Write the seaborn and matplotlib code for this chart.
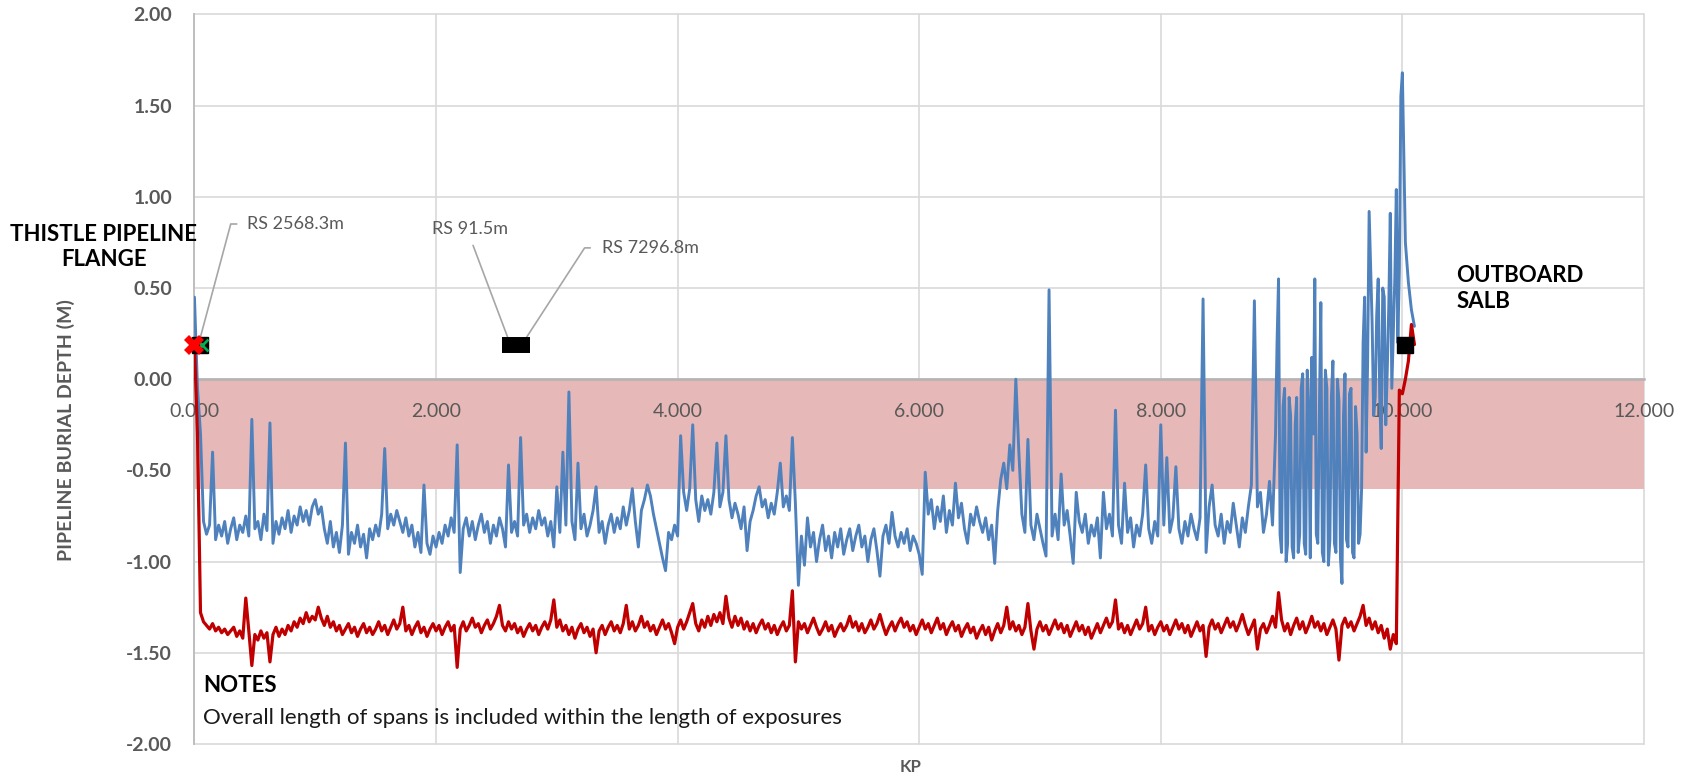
import numpy as np
import pandas as pd
import matplotlib
matplotlib.use('Agg')
import matplotlib.pyplot as plt
import seaborn as sns

# survey points every 25 m along the route (KP in km)
kp = np.round(np.arange(0, 10.1001, 0.025), 3)

# blue profile (m)
blue_depth = [
    0.45, -0.05, -0.30, -0.78, -0.85, -0.80, -0.40, -0.88, -0.80, -0.86, -0.78, -0.90, -0.82, -0.76, -0.88, -0.80, -0.84, -0.75, -0.86, -0.22,
    -0.82, -0.78, -0.88, -0.74, -0.83, -0.24, -0.90, -0.78, -0.85, -0.76, -0.82, -0.72, -0.84, -0.75, -0.80, -0.70, -0.78, -0.72, -0.80, -0.70,
    -0.66, -0.74, -0.70, -0.82, -0.90, -0.78, -0.92, -0.84, -0.95, -0.80, -0.35, -0.96, -0.84, -0.90, -0.80, -0.92, -0.85, -0.98, -0.82, -0.88,
    -0.80, -0.86, -0.74, -0.38, -0.82, -0.74, -0.80, -0.72, -0.78, -0.84, -0.76, -0.86, -0.80, -0.92, -0.84, -0.95, -0.58, -0.90, -0.96, -0.86,
    -0.92, -0.84, -0.90, -0.80, -0.86, -0.76, -0.84, -0.36, -1.06, -0.82, -0.76, -0.86, -0.78, -0.88, -0.80, -0.74, -0.84, -0.78, -0.90, -0.80,
    -0.86, -0.76, -0.82, -0.92, -0.47, -0.84, -0.78, -0.86, -0.32, -0.80, -0.74, -0.84, -0.76, -0.82, -0.72, -0.80, -0.76, -0.86, -0.78, -0.92,
    -0.59, -0.84, -0.40, -0.80, -0.07, -0.78, -0.88, -0.46, -0.82, -0.74, -0.86, -0.80, -0.72, -0.59, -0.84, -0.78, -0.90, -0.80, -0.74, -0.84,
    -0.76, -0.82, -0.70, -0.80, -0.72, -0.60, -0.78, -0.92, -0.72, -0.66, -0.58, -0.64, -0.74, -0.82, -0.90, -0.98, -1.05, -0.84, -0.88, -0.80,
    -0.86, -0.31, -0.62, -0.72, -0.60, -0.25, -0.66, -0.78, -0.64, -0.72, -0.66, -0.74, -0.62, -0.35, -0.70, -0.62, -0.31, -0.66, -0.76, -0.68,
    -0.74, -0.82, -0.70, -0.94, -0.78, -0.72, -0.64, -0.59, -0.70, -0.66, -0.76, -0.68, -0.74, -0.62, -0.46, -0.70, -0.64, -0.72, -0.32, -0.68,
    -1.13, -0.86, -1.02, -0.76, -0.92, -0.84, -1.00, -0.88, -0.80, -0.94, -0.86, -0.98, -0.84, -0.92, -0.82, -0.96, -0.88, -0.82, -0.94, -0.86,
    -0.80, -0.92, -0.86, -1.00, -0.88, -0.82, -0.94, -1.08, -0.86, -0.80, -0.90, -0.73, -0.86, -0.92, -0.84, -0.90, -0.82, -0.94, -0.86, -0.90,
    -0.96, -1.07, -0.51, -0.74, -0.66, -0.82, -0.70, -0.78, -0.64, -0.84, -0.72, -0.80, -0.57, -0.76, -0.68, -0.82, -0.90, -0.74, -0.80, -0.70,
    -0.78, -0.84, -0.76, -0.88, -0.80, -1.01, -0.72, -0.55, -0.46, -0.60, -0.36, -0.50, 0.00, -0.40, -0.74, -0.84, -0.33, -0.80, -0.88, -0.74,
    -0.82, -0.90, -0.97, 0.49, -0.86, -0.74, -0.88, -0.52, -0.80, -0.72, -0.86, -1.01, -0.62, -0.78, -0.84, -0.74, -0.90, -0.80, -0.86, -0.76,
    -0.98, -0.62, -0.82, -0.74, -0.86, -0.17, -0.80, -0.90, -0.57, -0.84, -0.76, -0.92, -0.80, -0.86, -0.74, -0.47, -0.82, -0.90, -0.78, -0.86,
    -0.25, -0.80, -0.43, -0.84, -0.76, -0.48, -0.82, -0.90, -0.78, -0.86, -0.74, -0.82, -0.88, -0.76, 0.44, -0.95, -0.70, -0.58, -0.80, -0.86,
    -0.74, -0.90, -0.78, -0.84, -0.68, -0.80, -0.92, -0.76, -0.84, -0.70, -0.58, 0.43, -0.70, -0.62, -0.84, -0.74, -0.56, -0.80, -0.30, 0.55,
    -0.95, -0.05, -0.90, -0.20, -0.98, -0.10, -0.85, 0.03, -0.96, -0.15, 0.12, 0.55, -0.90, 0.42, -1.00, -0.05, -0.88, 0.10, -0.95, -0.12,
    -1.12, 0.03, -0.92, -0.05, -0.98, -0.30, -0.85, 0.20, -0.40, 0.92, 0.30, -0.10, 0.55, -0.38, 0.45, 0.05, 0.91, 0.25, 1.04, 0.60,
    1.68, 0.75, 0.53, 0.38, 0.29,
]

# extra blue readings in the busy stretch near the outboard end (half steps)
extra_kp = np.round(np.arange(8.9625, 9.9876, 0.025), 4)
extra_depth = [
    0.20, -0.85, -0.15, -1.00, -0.10, -0.92, -0.25, -0.95, -0.05, -0.90,
    0.05, -0.98, -0.30, -0.85, -0.20, -0.95, 0.05, -1.02, -0.10, -0.90,
    0.00, -0.98, -0.20, -0.88, -0.08, -0.95, -0.15, -0.90, -0.60, 0.45,
    0.10, 0.60, -0.20, 0.35, -0.10, 0.50, -0.25, 0.40, -0.05, 0.55,
    0.20, 1.55,
]

# red profile (m)
red_depth = [
    0.19, -0.30, -1.28, -1.33, -1.35, -1.37, -1.34, -1.38, -1.36, -1.39, -1.37, -1.40, -1.38, -1.36, -1.41, -1.38, -1.42, -1.20, -1.38, -1.57,
    -1.40, -1.43, -1.38, -1.42, -1.39, -1.55, -1.40, -1.36, -1.41, -1.37, -1.40, -1.35, -1.38, -1.33, -1.36, -1.31, -1.34, -1.28, -1.33, -1.30,
    -1.32, -1.25, -1.31, -1.35, -1.30, -1.36, -1.33, -1.38, -1.35, -1.40, -1.37, -1.34, -1.39, -1.36, -1.41, -1.37, -1.34, -1.39, -1.36, -1.40,
    -1.37, -1.33, -1.38, -1.35, -1.40, -1.36, -1.32, -1.37, -1.34, -1.25, -1.38, -1.35, -1.40, -1.36, -1.33, -1.39, -1.36, -1.41, -1.37, -1.34,
    -1.38, -1.35, -1.40, -1.36, -1.33, -1.38, -1.35, -1.58, -1.37, -1.33, -1.38, -1.35, -1.31, -1.36, -1.34, -1.39, -1.35, -1.32, -1.37, -1.34,
    -1.30, -1.24, -1.35, -1.38, -1.33, -1.37, -1.34, -1.39, -1.36, -1.41, -1.37, -1.34, -1.38, -1.35, -1.40, -1.36, -1.33, -1.37, -1.32, -1.21,
    -1.36, -1.32, -1.38, -1.35, -1.40, -1.36, -1.42, -1.37, -1.34, -1.39, -1.36, -1.41, -1.37, -1.50, -1.38, -1.35, -1.40, -1.36, -1.33, -1.38,
    -1.35, -1.39, -1.34, -1.24, -1.37, -1.33, -1.38, -1.35, -1.30, -1.36, -1.33, -1.38, -1.35, -1.40, -1.36, -1.32, -1.37, -1.34, -1.39, -1.45,
    -1.36, -1.32, -1.37, -1.33, -1.28, -1.23, -1.34, -1.38, -1.32, -1.36, -1.30, -1.35, -1.29, -1.33, -1.28, -1.34, -1.19, -1.31, -1.36, -1.30,
    -1.35, -1.31, -1.37, -1.33, -1.38, -1.34, -1.39, -1.35, -1.32, -1.37, -1.34, -1.39, -1.35, -1.40, -1.36, -1.33, -1.38, -1.35, -1.16, -1.55,
    -1.33, -1.37, -1.34, -1.39, -1.35, -1.31, -1.36, -1.40, -1.37, -1.33, -1.38, -1.35, -1.41, -1.37, -1.34, -1.38, -1.35, -1.30, -1.36, -1.33,
    -1.38, -1.34, -1.39, -1.36, -1.32, -1.37, -1.34, -1.29, -1.35, -1.40, -1.36, -1.33, -1.38, -1.34, -1.31, -1.36, -1.33, -1.38, -1.35, -1.40,
    -1.36, -1.32, -1.37, -1.34, -1.39, -1.35, -1.31, -1.37, -1.34, -1.40, -1.36, -1.33, -1.38, -1.35, -1.41, -1.37, -1.34, -1.39, -1.36, -1.42,
    -1.38, -1.35, -1.40, -1.36, -1.43, -1.38, -1.34, -1.39, -1.35, -1.25, -1.37, -1.33, -1.38, -1.35, -1.40, -1.36, -1.23, -1.38, -1.48, -1.37,
    -1.33, -1.38, -1.35, -1.40, -1.36, -1.32, -1.37, -1.34, -1.39, -1.35, -1.41, -1.37, -1.33, -1.38, -1.35, -1.40, -1.36, -1.42, -1.38, -1.34,
    -1.39, -1.35, -1.31, -1.36, -1.33, -1.21, -1.37, -1.34, -1.39, -1.35, -1.40, -1.36, -1.32, -1.37, -1.34, -1.25, -1.38, -1.35, -1.40, -1.36,
    -1.33, -1.38, -1.35, -1.40, -1.36, -1.32, -1.37, -1.34, -1.39, -1.35, -1.41, -1.37, -1.33, -1.38, -1.35, -1.52, -1.36, -1.32, -1.37, -1.34,
    -1.39, -1.35, -1.31, -1.36, -1.33, -1.38, -1.34, -1.29, -1.35, -1.40, -1.36, -1.32, -1.48, -1.37, -1.34, -1.39, -1.35, -1.30, -1.36, -1.17,
    -1.32, -1.38, -1.34, -1.40, -1.35, -1.31, -1.37, -1.33, -1.39, -1.35, -1.30, -1.36, -1.33, -1.38, -1.34, -1.40, -1.36, -1.32, -1.37, -1.54,
    -1.35, -1.31, -1.36, -1.33, -1.38, -1.34, -1.30, -1.24, -1.35, -1.31, -1.37, -1.33, -1.39, -1.35, -1.42, -1.37, -1.48, -1.40, -1.45, -0.06,
    -0.08, 0.00, 0.10, 0.30, 0.19,
]

# markers along the top
flange_kp = 0.0
marker_depth = 0.19
square_kp = [0.05, 10.02]
span_block = [2.55, 2.78]

# remaining span callouts
rs_labels = ['RS 2568.3m', 'RS 91.5m', 'RS 7296.8m']
rs_kp = [0.045, 2.61, 2.72]
rs_depth = [0.22, 0.20, 0.20]

x_ticks = [0, 2, 4, 6, 8, 10, 12]
y_ticks = [-2.0, -1.5, -1.0, -0.5, 0.0, 0.5, 1.0, 1.5, 2.0]

assert len(kp) == len(blue_depth) == len(red_depth)
assert len(extra_kp) == len(extra_depth)
df_red = pd.DataFrame({'KP': kp, 'depth': red_depth})
df_blue = pd.concat([pd.DataFrame({'KP': kp, 'depth': blue_depth}),
                     pd.DataFrame({'KP': extra_kp, 'depth': extra_depth})])
df_blue = df_blue.sort_values('KP').reset_index(drop=True)

sns.set_theme(style='white')
plt.rcParams['font.family'] = ['Lato', 'DejaVu Sans']

grey = '#595959'
fig = plt.figure(figsize=(16.88, 7.72), dpi=100)
ax = fig.add_axes([0.1152, 0.0363, 0.8587, 0.945])

# gridlines drawn by hand so the band hides them but not the tick labels
for y in y_ticks:
    ax.axhline(y, color='#d9d9d9', lw=1.2, zorder=0.5, clip_on=False)
for x in x_ticks:
    ax.axvline(x, color='#d9d9d9', lw=1.2, zorder=0.5, clip_on=False)

# band between 0 and -0.6 m
ax.axhspan(-0.6, 0, color='#e6b8b7', zorder=1, lw=0)

sns.lineplot(data=df_blue, x='KP', y='depth', ax=ax, color='#4f81bd', lw=2.1,
             estimator=None, sort=False, zorder=3)
sns.lineplot(data=df_red, x='KP', y='depth', ax=ax, color='#c00000', lw=2.3,
             estimator=None, sort=False, zorder=4)

# span / exposure markers
ax.plot(span_block, [marker_depth, marker_depth], color='black', lw=11.5,
        solid_capstyle='butt', zorder=5)
ax.plot(square_kp, [marker_depth] * len(square_kp), ls='none', marker='s',
        ms=11.5, color='black', zorder=5, clip_on=False)
ax.plot([square_kp[0] + 0.01], [marker_depth], ls='none', marker='x', ms=8,
        mew=2, color='#00b050', zorder=6, clip_on=False)
ax.plot([flange_kp], [marker_depth], ls='none', marker='X', ms=14, mew=0,
        color='#ff0000', zorder=7, clip_on=False)

lead = dict(arrowstyle='-', color='#a6a6a6', lw=1.2, shrinkB=0)
ax.annotate(rs_labels[0], xy=(rs_kp[0], rs_depth[0]), xytext=(0.435, 0.851),
            ha='left', va='center', fontsize=13, color=grey,
            arrowprops=dict(lead, shrinkA=5, relpos=(0, 0.5),
                            connectionstyle='angle,angleA=0,angleB=75,rad=0'))
ax.annotate(rs_labels[1], xy=(rs_kp[1], rs_depth[1]), xytext=(2.28, 0.824),
            ha='center', va='center', fontsize=13, color=grey,
            arrowprops=dict(lead, shrinkA=4, relpos=(0.5, 0)))
ax.annotate(rs_labels[2], xy=(rs_kp[2], rs_depth[2]), xytext=(3.373, 0.72),
            ha='left', va='center', fontsize=13, color=grey,
            arrowprops=dict(lead, shrinkA=6, relpos=(0, 0.5),
                            connectionstyle='angle,angleA=0,angleB=57,rad=0'))

ax.set_xlim(0, 12)
ax.set_ylim(-2, 2)
ax.set_xticks(x_ticks)
ax.set_yticks(y_ticks)
ax.set_xticklabels([f'{v:.3f}' for v in x_ticks])
ax.set_yticklabels([f'{v:.2f}' for v in y_ticks])
ax.tick_params(axis='both', length=0, labelsize=14, labelcolor=grey)
ax.tick_params(axis='y', pad=16)
ax.tick_params(axis='x', pad=17)
for lab in ax.get_xticklabels() + ax.get_yticklabels():
    lab.set_fontweight('bold')
ax.grid(False)
ax.set_axisbelow(False)  # keep tick labels above the band

# x axis crosses at zero
ax.spines['bottom'].set_position(('data', 0))
ax.spines['bottom'].set_color('#b3b3b3')
ax.spines['bottom'].set_linewidth(1.8)
ax.spines['left'].set_color('#bfbfbf')
ax.spines['left'].set_linewidth(1.4)
ax.spines['top'].set_visible(False)
ax.spines['right'].set_visible(False)

ax.set_xlabel('KP', fontsize=12, fontweight='bold', color=grey)
ax.set_ylabel('PIPELINE BURIAL DEPTH (M)', fontsize=14, fontweight='bold', color=grey)
ax.xaxis.set_label_coords(0.494, -0.02)
ax.yaxis.set_label_coords(-0.0824, 0.43)

fig.text(0.0616, 0.680, 'THISTLE PIPELINE\nFLANGE', ha='center', va='center',
         fontsize=16, fontweight='bold', color='black', linespacing=1.25)
fig.text(0.8626, 0.6263, 'OUTBOARD\nSALB', ha='left', va='center',
         fontsize=16, fontweight='bold', color='black', linespacing=1.25)
fig.text(0.1203, 0.1114, 'NOTES', ha='left', va='center',
         fontsize=16, fontweight='bold', color='black')
fig.text(0.1203, 0.0699, 'Overall length of spans is included within the length of exposures',
         ha='left', va='center', fontsize=16, color='#1a1a1a')

fig.savefig('out.png', dpi=100)
